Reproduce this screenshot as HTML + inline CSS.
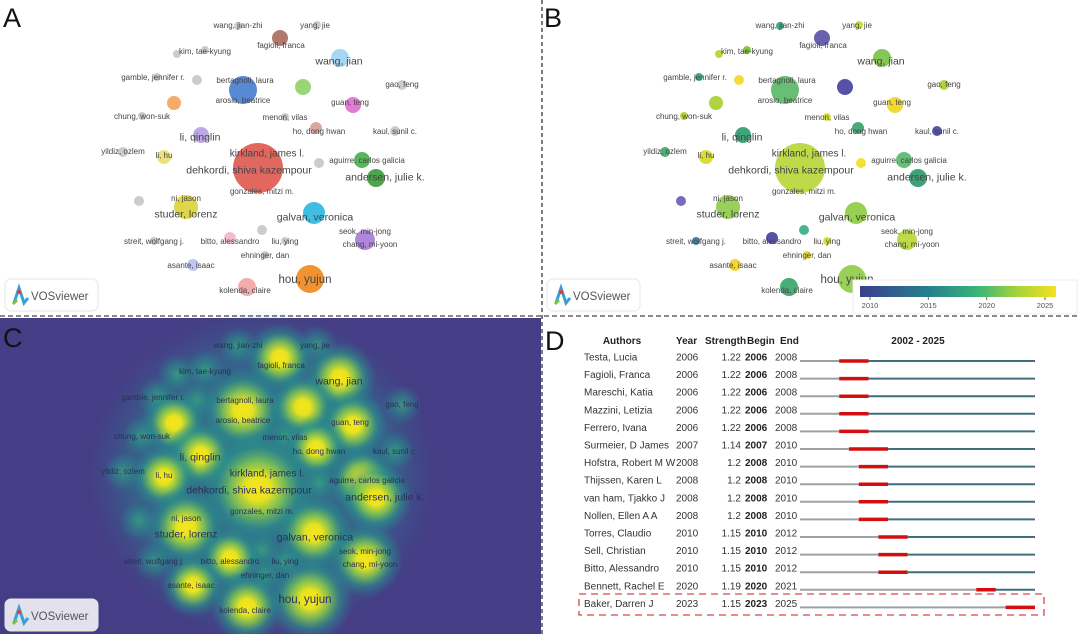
<!DOCTYPE html>
<html><head><meta charset="utf-8"><style>
html,body{margin:0;padding:0;background:#fff;}
svg{display:block;font-family:"Liberation Sans",sans-serif;}
</style></head><body>
<svg id="fig" width="1080" height="634" viewBox="0 0 1080 634" xmlns="http://www.w3.org/2000/svg">
<defs>
<radialGradient id="glow"><stop offset="0" stop-color="#f7e51c"/><stop offset="0.22" stop-color="#e7e31f"/><stop offset="0.45" stop-color="#86c94e" stop-opacity="0.85"/><stop offset="0.7" stop-color="#2a968a" stop-opacity="0.55"/><stop offset="1" stop-color="#2a7f8e" stop-opacity="0"/></radialGradient>
<radialGradient id="glowS"><stop offset="0" stop-color="#3aa57e" stop-opacity="0.8"/><stop offset="0.5" stop-color="#2a8f8a" stop-opacity="0.5"/><stop offset="1" stop-color="#2a7f8e" stop-opacity="0"/></radialGradient>
<radialGradient id="env"><stop offset="0" stop-color="#2a8a8c" stop-opacity="0.75"/><stop offset="0.75" stop-color="#2c7a8e" stop-opacity="0.55"/><stop offset="1" stop-color="#3a5a8c" stop-opacity="0"/></radialGradient>
<linearGradient id="viridis" x1="0" x2="1"><stop offset="0" stop-color="#3b3f8d"/><stop offset="0.35" stop-color="#277f8e"/><stop offset="0.6" stop-color="#3ab477"/><stop offset="0.8" stop-color="#a3d43a"/><stop offset="1" stop-color="#f6e01f"/></linearGradient>
</defs>
<rect x="0" y="318" width="541" height="316" fill="#453e86"/>
<ellipse cx="262" cy="475" rx="175" ry="165" fill="url(#env)"/>
<g id="pA"></g>
<g id="pB"></g>
<g id="pC"></g>
<g id="pD"></g>
<line x1="542" y1="0" x2="542" y2="634" stroke="#222" stroke-width="1.2" stroke-dasharray="4,3"/>
<line x1="0" y1="316" x2="1080" y2="316" stroke="#444" stroke-width="1.2" stroke-dasharray="5,3"/>
<text x="3" y="27" font-size="27" fill="#111">A</text>
<text x="544" y="27" font-size="27" fill="#111">B</text>
<text x="3" y="347" font-size="27" fill="#111">C</text>
<text x="545" y="350" font-size="27" fill="#111">D</text>
</svg>
<script>
const NS="http://www.w3.org/2000/svg";
// Network nodes (panel-local layout coordinates)
const nodeX=[238,317,280,177,205,340,197,157,243,303,402,353,174,142,285,316,395,201,123,164,258,319,362,376,139,186,314,262,365,154,230,285,265,193,310,247];
const nodeY=[26,25,38,54,50,58,80,77,90,87,85,105,103,116,117,128,131,135,152,157,168,163,160,178,201,207,213,230,240,241,238,241,255,265,279,287];
const nodeR=[4,4,8,4,4,9,5,4,14,8,5,8,7,4,4,6,5,8,5,7,25,5,8,9,5,12,11,5,10,4,6,4,4,6,14,9];
const clusterColors=["#c8c8c8","#c8c8c8","#a86f5e","#c8c8c8","#c8c8c8","#9fd3ef","#c8c8c8","#c8c8c8","#4a7fd0","#8fd16a","#c8c8c8","#e070d0","#f7a35c","#c8c8c8","#c8c8c8","#d7a295","#c8c8c8","#b9a2e2","#c8c8c8","#e9e070","#e05a50","#c8c8c8","#4ab04e","#3e9e3e","#c8c8c8","#dcd23a","#2fb8e0","#c8c8c8","#a87ed8","#c8c8c8","#f2b8c8","#c8c8c8","#c8c8c8","#b8c2f0","#f08a20","#f2a5a5"];
const yearColors=["#3aa57a","#c8dd2a","#5a54a8","#b9d42a","#7cc140","#7cc148","#f4d727","#3aa57a","#5cb96a","#4a43a0","#a9cf30","#f0d722","#a9cf30","#b5d42a","#d4df26","#3aa36f","#4a45a0","#2f9e6c","#43a865","#d6dc26","#b9d73a","#f2dc25","#5ab86a","#2e9a6e","#6a5fb8","#8fcc4a","#8fcc45","#3aae8a","#b9d73a","#2f7fa8","#4a43a0","#d4df26","#e8d825","#f4d022","#8fcc4a","#3aa66a"];
const labels=["wang, jian-zhi","yang, jie","fagioli, franca","kim, tae-kyung","wang, jian","gamble, jennifer r.","bertagnoli, laura","arosio, beatrice","gao, feng","guan, teng","chung, won-suk","menon, vilas","ho, dong hwan","kaul, sunil c.","li, qinglin","yildiz, ozlem","li, hu","kirkland, james l.","dehkordi, shiva kazempour","aguirre, carlos galicia","andersen, julie k.","gonzales, mitzi m.","ni, jason","studer, lorenz","galvan, veronica","seok, min-jong","chang, mi-yoon","streit, wolfgang j.","bitto, alessandro","liu, ying","ehninger, dan","asante, isaac","hou, yujun","kolenda, claire"];
const labelX=[238,315,281,205,339,153,245,243,402,350,142,285,319,395,200,123,164,267,249,367,385,262,186,186,315,365,370,154,230,285,265,191,305,245];
const labelY=[25,25,45,51,61,77,80,100,84,102,116,117,131,131,137,151,155,153,170,160,177,191,198,214,217,231,244,241,241,241,255,265,279,290];
const labelSize=[8,8,8,8,10.5,8,8,8,8,8,8,8,8,8,10.5,8,8,10,10.5,8,10.5,8,8,10.5,10.5,8,8,8,8,8,8,8,11.5,8];

// Burst detection data
const authors=["Testa, Lucia","Fagioli, Franca","Mareschi, Katia","Mazzini, Letizia","Ferrero, Ivana","Surmeier, D James","Hofstra, Robert M W","Thijssen, Karen L","van ham, Tjakko J","Nollen, Ellen A A","Torres, Claudio","Sell, Christian","Bitto, Alessandro","Bennett, Rachel E","Baker, Darren J"];
const years=[2006,2006,2006,2006,2006,2007,2008,2008,2008,2008,2010,2010,2010,2020,2023];
const strengths=["1.22","1.22","1.22","1.22","1.22","1.14","1.2","1.2","1.2","1.2","1.15","1.15","1.15","1.19","1.15"];
const begins=[2006,2006,2006,2006,2006,2007,2008,2008,2008,2008,2010,2010,2010,2020,2023];
const ends=[2008,2008,2008,2008,2008,2010,2010,2010,2010,2010,2012,2012,2012,2021,2025];
const rangeStart=2002, rangeEnd=2025;

function mk(parent,tag,attrs,txt){const e=document.createElementNS(NS,tag);for(const k in attrs)e.setAttribute(k,attrs[k]);if(txt!==undefined)e.textContent=txt;parent.appendChild(e);return e;}

function badge(g,ox,oy,fill){
  const b=mk(g,"g",{});
  
  
  mk(b,"rect",{x:ox+5,y:oy+279,width:93,height:32,rx:6,fill:fill,stroke:"#e6e6e6"});
  mk(b,"path",{d:`M${ox+14} ${oy+303} L${ox+19} ${oy+288} L${ox+24} ${oy+303} L${ox+28} ${oy+298}`,stroke:"#3a9fd8","stroke-width":3,fill:"none"});
  mk(b,"circle",{cx:ox+19,cy:oy+292,r:2,fill:"#e04030"});
  mk(b,"path",{d:`M${ox+13} ${oy+304} L${ox+17} ${oy+300}`,stroke:"#7cc140","stroke-width":3});
  mk(b,"text",{x:ox+31,y:oy+300,"font-size":11.5,fill:"#555"},"VOSviewer");
}

function network(g,ox,oy,colors,mode){
  for(let i=0;i<nodeX.length;i++){
    if(mode==="density"){
      const small=nodeR[i]<=5;
      const c=mk(g,"circle",{cx:ox+nodeX[i],cy:oy+nodeY[i],r:small?20:nodeR[i]*1.4+24,fill:small?"url(#glowS)":"url(#glow)"});
      
      
    } else {
      const c=mk(g,"circle",{cx:ox+nodeX[i],cy:oy+nodeY[i],r:nodeR[i],fill:colors[i],opacity:0.92});
      
      
    }
  }
  for(let i=0;i<labels.length;i++){
    const t=mk(g,"text",{x:ox+labelX[i],y:oy+labelY[i]+labelSize[i]*0.35,"font-size":labelSize[i],"text-anchor":"middle",fill:mode==="density"?"#2a2f55":"#444"},labels[i]);
    
    
  }
}

network(document.getElementById("pA"),0,0,clusterColors,"node");
badge(document.getElementById("pA"),0,0,"#fff");
const gB=document.getElementById("pB");
network(gB,542,0,yearColors,"node");
badge(gB,542,0,"#fff");
const cb=mk(gB,"g",{});


mk(cb,"rect",{x:853,y:280,width:224,height:34,fill:"#fff",stroke:"#eee"});
mk(cb,"rect",{x:860,y:286,width:196,height:11,fill:"url(#viridis)"});
const cbTicks=[2010,2015,2020,2025];
const cbX=y=>870+(y-2010)*(1045-870)/15;
cbTicks.forEach(y=>{
  mk(cb,"line",{x1:cbX(y),x2:cbX(y),y1:297,y2:300,stroke:"#666"});
  const t=mk(cb,"text",{x:cbX(y),y:308,"font-size":7.5,"text-anchor":"middle",fill:"#555"},String(y));
  
  
});
const gC=document.getElementById("pC");
network(gC,0,320,null,"density");
badge(gC,0,320,"#e3e1ec");

// Panel D
const gD=document.getElementById("pD");
const x0=800,x1=1035;
const xs=y=>x0+(y-rangeStart)*(x1-x0)/(rangeEnd-rangeStart+1);
const rowY=i=>357+i*17.6;
[["Authors",622,"middle"],["Year",676,"start"],["Strength",705,"start"],["Begin",747,"start"],["End",780,"start"]].forEach(h=>{
  const t=mk(gD,"text",{x:h[1],y:344,"font-size":10,"font-weight":"bold","text-anchor":h[2],fill:"#222"},h[0]);
  
  
});
const rt=mk(gD,"text",{x:918,y:344,"font-size":10,"font-weight":"bold","text-anchor":"middle",fill:"#222"},rangeStart+" - "+rangeEnd);


for(let i=0;i<authors.length;i++){
  const y=rowY(i);
  const r=mk(gD,"g",{});
  
  
  mk(r,"text",{x:584,y:y+3.5,"font-size":10,fill:"#333"},authors[i]);
  mk(r,"text",{x:676,y:y+3.5,"font-size":10,fill:"#333"},String(years[i]));
  mk(r,"text",{x:741,y:y+3.5,"font-size":10,"text-anchor":"end",fill:"#333"},strengths[i]);
  mk(r,"text",{x:745,y:y+3.5,"font-size":10,"font-weight":"bold",fill:"#222"},String(begins[i]));
  mk(r,"text",{x:775,y:y+3.5,"font-size":10,fill:"#333"},String(ends[i]));
  const ly=y+4;
  mk(r,"line",{x1:x0,x2:xs(begins[i]),y1:ly,y2:ly,stroke:"#9aa3a3","stroke-width":2});
  mk(r,"line",{x1:xs(ends[i]+1),x2:x1,y1:ly,y2:ly,stroke:"#3f6f7a","stroke-width":2});
  const b=mk(r,"line",{x1:xs(begins[i]),x2:xs(ends[i]+1),y1:ly,y2:ly,stroke:"#d40e0e","stroke-width":3.5});
  
  
}
const hb=mk(gD,"rect",{x:579,y:594,width:465,height:21,fill:"none",stroke:"#d9434a","stroke-width":1.3,"stroke-dasharray":"7,5"});


</script>
</body></html>
